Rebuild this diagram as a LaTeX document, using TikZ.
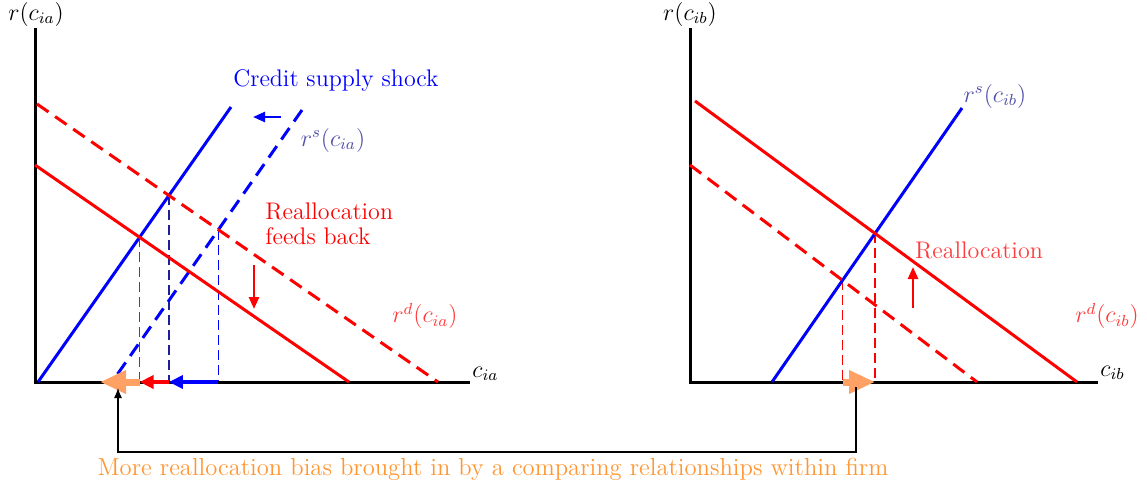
\documentclass[tikz,border=0pt]{standalone}
\usetikzlibrary{arrows.meta}
\definecolor{lblue}{RGB}{80,80,170}
\definecolor{lred}{RGB}{255,60,60}
\definecolor{peach}{RGB}{255,160,100}
\definecolor{otext}{RGB}{255,150,50}
\definecolor{navyb}{RGB}{30,30,150}
\begin{document}
\begin{tikzpicture}[x=0.5pt,y=-0.5pt,
  axis/.style={line width=1.5pt},
  curve/.style={line width=1.5pt},
  dcurve/.style={line width=1.5pt, dash pattern=on 7pt off 4pt},
  guide/.style={line width=0.75pt, dash pattern=on 5pt off 2.5pt},
  shiftarrow/.style={line width=2pt, -{Triangle[length=7pt,width=6.5pt]}},
  bigarrow/.style={line width=3.5pt, draw=peach, -{Triangle[length=13pt,width=11pt]}},
  smallarrow/.style={line width=1.2pt, -{Triangle[length=6pt,width=5pt]}},
  lbl/.style={font=\large, inner sep=0pt}]
\useasboundingbox (0,0) rectangle (1147,488);

% ---------- left panel ----------
\coordinate (O1) at (35,382);
\coordinate (Y1) at (35,28);
\coordinate (X1) at (470,382);
\coordinate (S1a) at (38,382);  \coordinate (S1b) at (231,107);
\coordinate (S2a) at (302,110); \coordinate (S2b) at (112,382);
\coordinate (D1a) at (37,104);  \coordinate (D1b) at (438,382);
\coordinate (R1a) at (35,165);  \coordinate (R1b) at (349,382);
\coordinate (A) at (intersection of S1a--S1b and R1a--R1b);
\coordinate (B) at (intersection of S1a--S1b and D1a--D1b);
\coordinate (C) at (intersection of S2a--S2b and D1a--D1b);
\coordinate (oL) at (100,382);

\draw[guide, red] (A) -- (A |- O1);
\draw[guide, navyb] (B) -- (B |- O1);
\draw[guide, blue] (C) -- (C |- O1);

\draw[axis] (Y1) -- (O1) -- (X1);
\draw[curve, blue] (S1a) -- (S1b);
\draw[dcurve, blue] (S2a) -- (S2b);
\draw[dcurve, red] (D1a) -- (D1b);
\draw[curve, red] (R1a) -- (R1b);

\draw[bigarrow] (A |- O1) -- (oL);
\draw[shiftarrow, red] (B |- O1) -- (A |- O1);
\draw[shiftarrow, blue] (C |- O1) -- (B |- O1);

\coordinate (bs1) at (281,117); \coordinate (bs2) at (253,117);
\draw[smallarrow, blue] (bs1) -- (bs2);
\coordinate (rd1) at (254,265); \coordinate (rd2) at (254,309);
\draw[smallarrow, red] (rd1) -- (rd2);

\node[lbl] (ry1) at (36,14) {$r(c_{ia})$};
\node[lbl, anchor=west] (cx1) at (472,374) {$c_{ia}$};
\node[lbl, text=blue] (shock) at (336,80) {Credit supply shock};
\node[lbl, text=lblue] (rs1) at (333,140) {$r^s(c_{ia})$};
\node[lbl, text=red, anchor=west] (re1) at (265,211) {Reallocation};
\node[lbl, text=red, anchor=west] (re2) at (265,236) {feeds back};
\node[lbl, text=lred] (rd1l) at (425,316) {$r^d(c_{ia})$};

% ---------- right panel ----------
\coordinate (O2) at (690,382);
\coordinate (Y2) at (690,28);
\coordinate (X2) at (1098,382);
\coordinate (S3a) at (772,382); \coordinate (S3b) at (962,108);
\coordinate (R2a) at (695,101); \coordinate (R2b) at (1077,382);
\coordinate (D2a) at (690,165); \coordinate (D2b) at (977,382);
\coordinate (E) at (intersection of S3a--S3b and R2a--R2b);
\coordinate (F) at (intersection of S3a--S3b and D2a--D2b);

\draw[guide, red] (E) -- (E |- O2);
\draw[guide, red] (F) -- (F |- O2);

\draw[axis] (Y2) -- (O2) -- (X2);
\draw[curve, blue] (S3a) -- (S3b);
\draw[curve, red] (R2a) -- (R2b);
\draw[dcurve, red] (D2a) -- (D2b);

\draw[bigarrow] (F |- O2) -- (E |- O2);

\coordinate (ru1) at (913,308); \coordinate (ru2) at (913,267);
\draw[smallarrow, red] (ru1) -- (ru2);

\node[lbl] (ry2) at (690,14) {$r(c_{ib})$};
\node[lbl, anchor=west] (cx2) at (1100,373) {$c_{ib}$};
\node[lbl, text=lblue] (rs2) at (995,96) {$r^s(c_{ib})$};
\node[lbl, text=lred] (re3) at (979,250) {Reallocation};
\node[lbl, text=lred] (rd2l) at (1107,316) {$r^d(c_{ib})$};

% ---------- link ----------
\coordinate (cR) at (856,387);
\coordinate (cL) at (118,388);
\coordinate (cB) at (0,452);
\draw[line width=0.6pt, -{Latex[length=5pt,width=4pt]}] (cR) |- (cB -| cL) -- (cL);
\node[inner sep=0pt, text=otext, font=\fontsize{12.3pt}{15pt}\selectfont] (bias) at (493,469) {More reallocation bias brought in by a comparing relationships within firm};
\end{tikzpicture}
\end{document}
